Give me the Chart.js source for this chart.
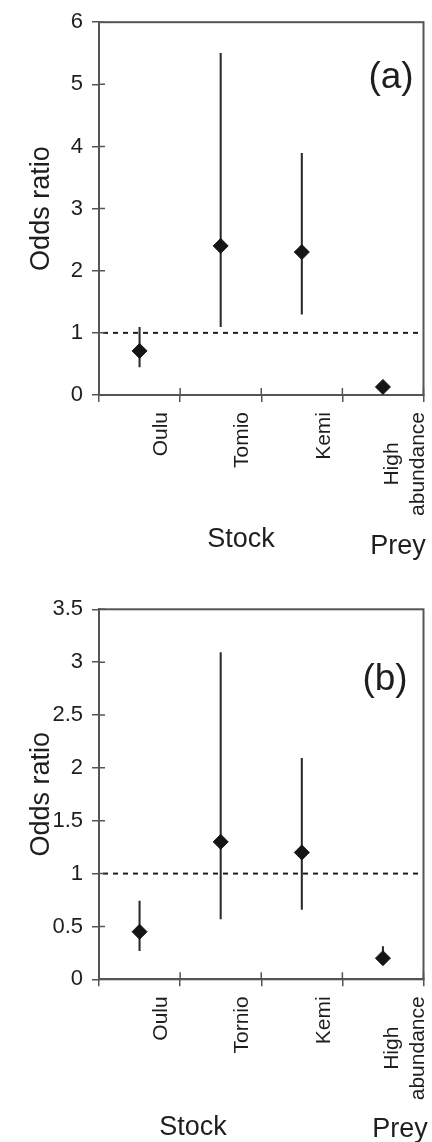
<!DOCTYPE html>
<html>
<head>
<meta charset="utf-8">
<script src="https://cdn.jsdelivr.net/npm/chart.js@4"></script>
<style>
  body { margin: 0; background: #fff; }
  canvas { display: block; }
</style>
</head>
<body>
<canvas id="chartA" width="432" height="571"></canvas>
<canvas id="chartB" width="432" height="571"></canvas>
<script>
// categories on the x axis (spelled as they appear in each panel)
const categoriesA = ["Oulu", "Tomio", "Kemi", ["High", "abundance"]];
const categoriesB = ["Oulu", "Tornio", "Kemi", ["High", "abundance"]];

// odds ratios with lower / upper limits
const oddsA = [0.71, 2.4, 2.3, 0.13];
const lowA = [0.45, 1.1, 1.3, 0.08];
const highA = [1.09, 5.5, 3.89, 0.18];

const oddsB = [0.45, 1.3, 1.2, 0.2];
const lowB = [0.27, 0.57, 0.66, 0.14];
const highB = [0.74, 3.09, 2.09, 0.31];

// y axis ranges
const yMaxA = 6, yStepA = 1;
const yMaxB = 3.5, yStepB = 0.5;

// dashed reference line
const refLine = 1;

const axisTitle = "Odds ratio";
const groupTitles = ["Stock", "Prey"];
const panelLabels = ["(a)", "(b)"];

const FONT = "'Liberation Sans', Arial, Helvetica, sans-serif";
const INK = "#1e1e1e";
const AXIS = "#555";

// frame, inward ticks, dashed line, rotated category labels and titles
const decor = {
  id: "decor",
  beforeDatasetsDraw(chart) {
    const { ctx, chartArea: a, scales: { x, y } } = chart;
    ctx.save();
    const yRef = y.getPixelForValue(refLine);
    ctx.strokeStyle = INK;
    ctx.lineWidth = 2;
    ctx.setLineDash([5, 5]);
    ctx.beginPath();
    ctx.moveTo(a.left + 4, yRef);
    ctx.lineTo(a.right - 3, yRef);
    ctx.stroke();
    ctx.setLineDash([]);

    ctx.strokeStyle = AXIS;
    ctx.lineWidth = 2;
    ctx.strokeRect(a.left, a.top, a.right - a.left, a.bottom - a.top);

    ctx.lineWidth = 1.5;
    ctx.beginPath();
    y.ticks.forEach((t) => {
      const py = y.getPixelForValue(t.value);
      ctx.moveTo(a.left, py);
      ctx.lineTo(a.left + 6, py);
    });
    const half = (x.getPixelForValue(1) - x.getPixelForValue(0)) / 2;
    for (let i = 0; i <= x.ticks.length; i++) {
      const px = x.getPixelForValue(i) - half;
      ctx.moveTo(px, a.bottom);
      ctx.lineTo(px, a.bottom - 7);
    }
    ctx.stroke();
    ctx.restore();
  },
  afterDraw(chart, args, opts) {
    const { ctx, chartArea: a, scales: { x } } = chart;
    ctx.save();
    ctx.fillStyle = INK;

    // category labels, rotated, ending just below the axis
    ctx.font = "21px " + FONT;
    chart.data.labels.forEach((lab, i) => {
      const lines = Array.isArray(lab) ? lab : [lab];
      const w = Math.max(...lines.map((s) => ctx.measureText(s).width));
      ctx.save();
      ctx.translate(x.getPixelForValue(i) + opts.labelShift, a.bottom + opts.labelGap);
      ctx.rotate(-Math.PI / 2);
      ctx.textAlign = "center";
      ctx.textBaseline = "middle";
      lines.forEach((s, j) => ctx.fillText(s, -w / 2, (j - (lines.length - 1) / 2) * 26));
      ctx.restore();
    });

    // group titles under the labels
    ctx.font = "27px " + FONT;
    ctx.textAlign = "center";
    ctx.textBaseline = "alphabetic";
    groupTitles.forEach((t, i) => ctx.fillText(t, opts.titles[i][0], opts.titles[i][1]));

    // panel letter
    ctx.font = "37px " + FONT;
    ctx.fillText(opts.panel, opts.panelPos[0], opts.panelPos[1]);
    ctx.restore();
  },
};

function makeChart(id, labels, odds, low, high, yMax, yStep, box, deco) {
  return new Chart(document.getElementById(id), {
    type: "bar",
    data: {
      labels: labels,
      datasets: [
        {
          type: "line",
          data: odds,
          showLine: false,
          pointStyle: "rectRot",
          pointRadius: 7.5,
          pointHoverRadius: 7.5,
          pointBackgroundColor: "#151515",
          pointBorderColor: "#151515",
          pointBorderWidth: 1,
          order: 1,
        },
        {
          // error bars as thin floating bars
          data: low.map((v, i) => [v, high[i]]),
          backgroundColor: "#2a2a2a",
          barThickness: 1.4,
          order: 2,
        },
      ],
    },
    options: {
      responsive: false,
      animation: false,
      layout: { padding: { top: box.top, right: box.right, left: 0, bottom: 0 } },
      plugins: {
        legend: { display: false },
        tooltip: { enabled: false },
        decor: deco,
      },
      scales: {
        x: {
          offset: true,
          grid: { drawOnChartArea: false, offset: true, color: AXIS, lineWidth: 1.5, tickLength: 7 },
          border: { color: AXIS, width: 2 },
          ticks: { display: false },
          afterFit: (s) => { s.height = box.xHeight; },
        },
        y: {
          min: 0,
          max: yMax,
          ticks: {
            stepSize: yStep,
            color: INK,
            font: { family: FONT, size: 22 },
            padding: 9,
            callback: (v) => String(v),
          },
          grid: { drawOnChartArea: false, color: AXIS, lineWidth: 1.5, tickLength: 7 },
          border: { color: AXIS, width: 2 },
          title: {
            display: true,
            text: axisTitle,
            color: INK,
            font: { family: FONT, size: 27 },
            padding: { top: 25, bottom: 0 },
          },
          afterFit: (s) => { s.width = 99; },
        },
      },
    },
    plugins: [decor],
  });
}

makeChart("chartA", categoriesA, oddsA, lowA, highA, yMaxA, yStepA,
  { top: 15, right: 3, xHeight: 176 },
  { labelShift: 22, labelGap: 17, titles: [[241, 547], [398, 554]], panel: panelLabels[0], panelPos: [391, 88] });

makeChart("chartB", categoriesB, oddsB, lowB, highB, yMaxB, yStepB,
  { top: 38.3, right: 8, xHeight: 162.7 },
  { labelShift: 22, labelGap: 17, titles: [[193, 564], [400, 566]], panel: panelLabels[1], panelPos: [385, 119] });
</script>
</body>
</html>
